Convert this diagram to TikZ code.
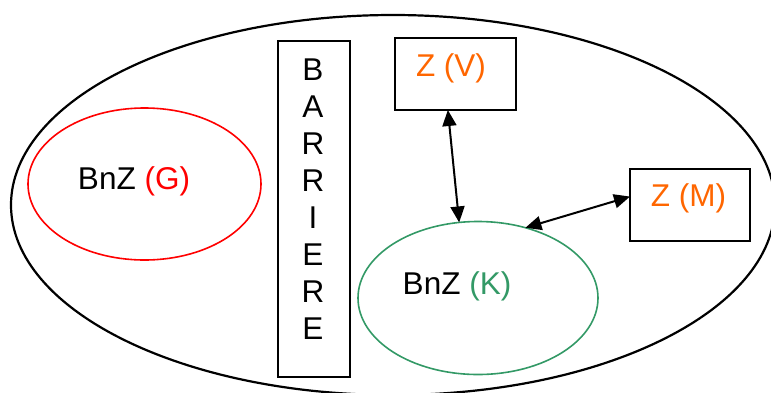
\documentclass[tikz,border=0pt]{standalone}
\usepackage{fontspec}
\setmainfont{Liberation Sans}
\usetikzlibrary{shapes.geometric,arrows.meta}
\definecolor{zorange}{HTML}{FF6600}
\definecolor{kgreen}{HTML}{339966}
\begin{document}
\begin{tikzpicture}[x=1pt,y=-1pt,
  every node/.style={inner sep=0pt,outer sep=0pt},
  txt/.style={font=\fontsize{31.5}{37}\selectfont},
  ell/.style={ellipse,draw,line width=1.6pt},
  box/.style={rectangle,draw,line width=1.8pt},
  conn/.style={{Triangle[length=16pt,width=14pt]}-{Triangle[length=16pt,width=14pt]},line width=2pt}]
\useasboundingbox (0,0) rectangle (771,392);
\node[ell,line width=2.2pt,minimum width=764pt,minimum height=380pt] (outer) at (393,205) {};
\node[ell,draw=red,minimum width=233pt,minimum height=152pt] (g) at (144.5,184) {};
\node[txt] (gt) at (134,181) {BnZ \textcolor{red}{(G)}};
\node[box,minimum width=72pt,minimum height=336pt] (barriere) at (314,209) {};
\node[txt,align=center] (bt) at (313,199) {B\\A\\R\\R\\I\\E\\R\\E};
\node[box,minimum width=121pt,minimum height=72pt] (zv) at (455.5,74) {};
\node[txt,text=zorange] (zvt) at (451,68) {Z (V)};
\node[box,minimum width=120pt,minimum height=72pt] (zm) at (690,205) {};
\node[txt,text=zorange] (zmt) at (688.5,198) {Z (M)};
\node[ell,draw=kgreen,minimum width=240pt,minimum height=153pt] (k) at (478,298) {};
\node[txt] (kt) at (457,286) {BnZ \textcolor{kgreen}{(K)}};
\draw[conn] (zv.258) -- (k.104);
\draw[conn] (zm.172) -- (k.56);
\end{tikzpicture}
\end{document}
